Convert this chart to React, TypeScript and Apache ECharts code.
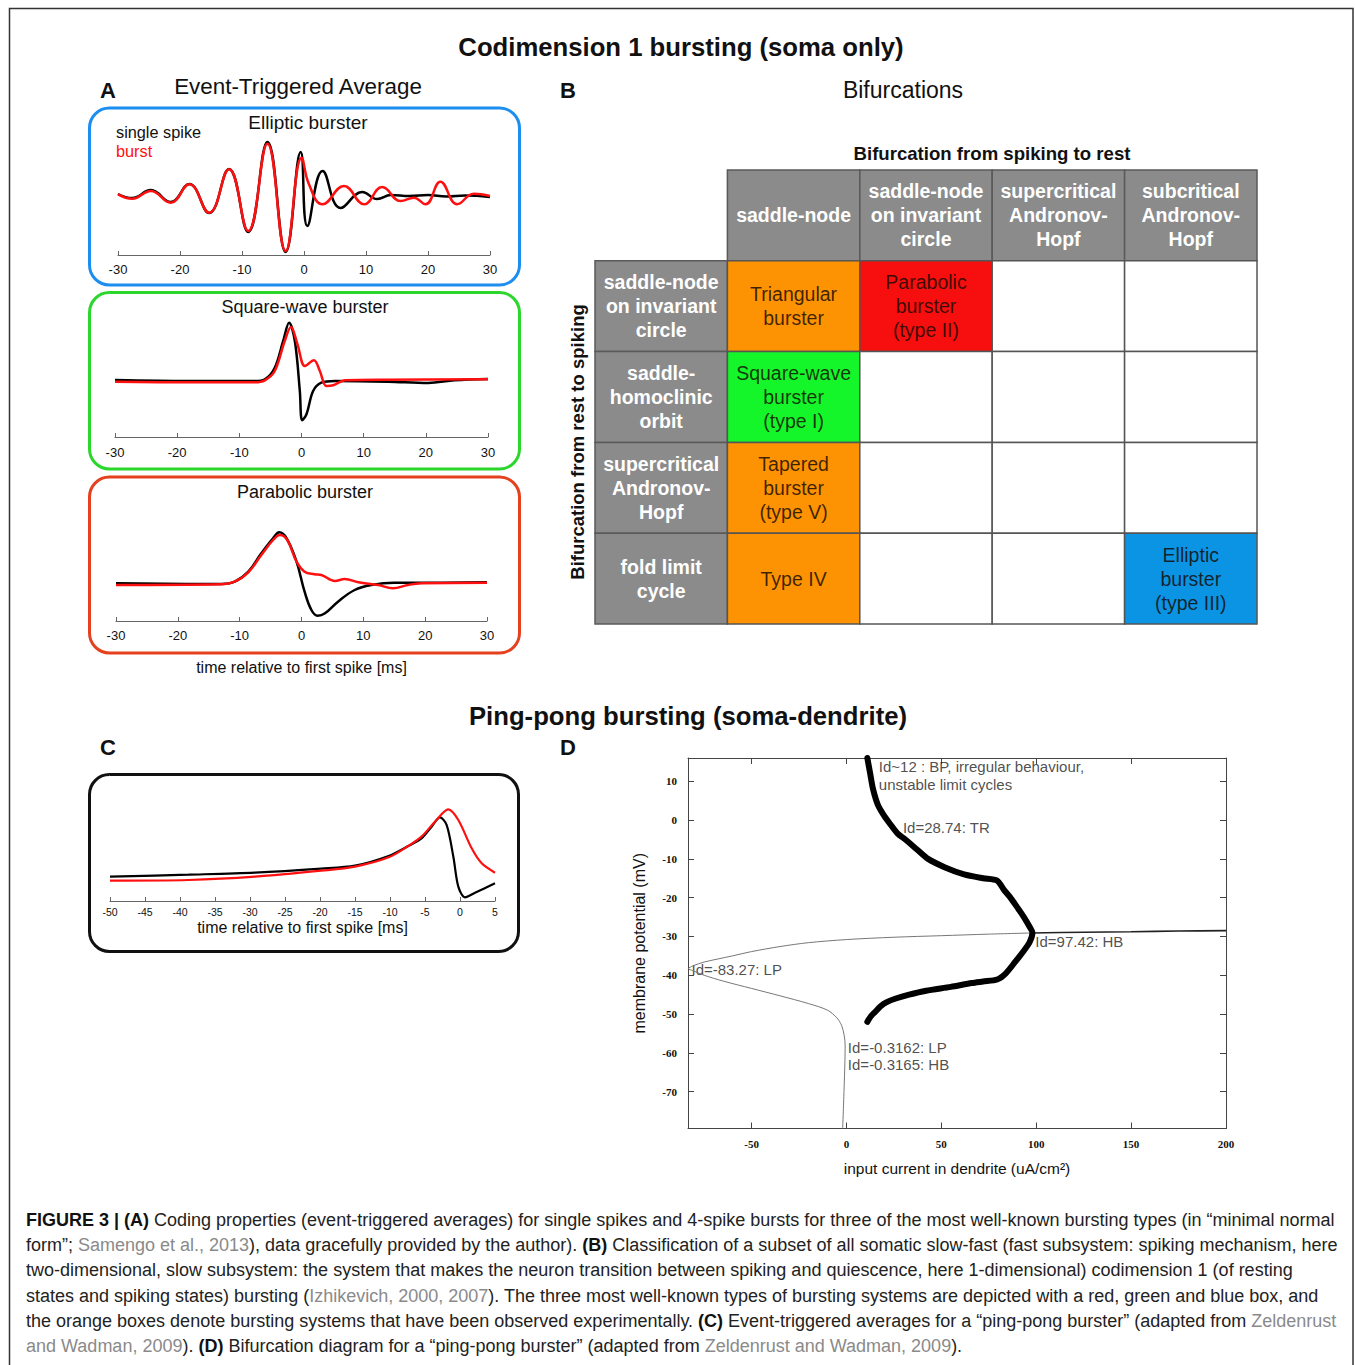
import React, { useEffect, useRef } from "react";
import * as echarts from "echarts";

// ---------- Panel A: event-triggered averages (t in ms, relative potential) ----------
const ellipticSingle: number[][] = [
  [-30, 0.2], [-27.7, -0.2], [-24.7, 0.6], [-21.5, -0.6], [-18.5, 1.2], [-15.3, -1.7],
  [-12.1, 2.7], [-9.0, -3.6], [-5.9, 5.4], [-2.96, -5.6], [-0.54, 4.4], [0.54, -3.0],
  [3.0, 2.5], [5.9, -1.2], [9.4, 0.4], [11.8, -0.3], [14, 0.1], [17, 0.0], [20, 0.1],
  [23, -0.05], [26, 0.05], [30, -0.1],
];
const ellipticBurst: number[][] = [
  [-30, 0.17], [-27.7, -0.27], [-24.7, 0.5], [-21.5, -0.67], [-18.5, 1.17], [-15.3, -1.67],
  [-12.1, 2.67], [-9.0, -3.5], [-5.9, 5.23], [-2.96, -5.5], [-0.38, 3.83], [0.8, 1.17],
  [3.0, -0.83], [6.45, 1.0], [9.7, -0.83], [12.6, 0.9], [15.6, -0.5], [17.7, -0.17],
  [19.6, -0.83], [22.0, 1.43], [24.7, -0.83], [27.4, 0.23], [30, 0],
];
const squareSingle: number[][] = [
  [-30, 0.1], [-18.2, 0], [-7.5, 0], [-5.9, 0.17], [-4.3, 1.33], [-2.95, 4.0], [-2.0, 5.83],
  [-1.07, 4.0], [-0.27, -1.0], [0.1, -3.93], [0.8, -3.33], [1.87, -1.0], [3.2, -0.17],
  [5.36, 0], [13.9, -0.07], [20.4, -0.2], [24.6, 0.07], [30, 0.2],
];
const squareBurst: number[][] = [
  [-30, -0.07], [-18.2, -0.13], [-7.5, -0.13], [-5.9, 0.07], [-4.3, 1.0], [-2.7, 4.0],
  [-1.7, 5.4], [-0.64, 3.67], [0.54, 1.5], [2.0, 2.07], [2.95, 1.0], [4.0, -0.5],
  [5.1, -0.43], [7.0, 0.07], [14, 0.13], [30, 0.17],
];
const parabolicSingle: number[][] = [
  [-30, 0.07], [-12.9, 0], [-10.8, 0.23], [-8.6, 1.23], [-6.5, 3.07], [-4.6, 4.57],
  [-3.6, 5.17], [-2.4, 4.57], [-0.8, 2.23], [0.5, -0.77], [1.6, -2.6], [2.6, -3.17],
  [3.8, -2.93], [5.9, -1.77], [8.6, -0.6], [11.3, -0.1], [15, 0.13], [19.4, 0.13], [30, 0.17],
];
const parabolicBurst: number[][] = [
  [-30, -0.1], [-12.9, -0.03], [-10.8, 0.23], [-8.6, 1.17], [-6.5, 2.9], [-4.6, 4.4],
  [-3.5, 4.9], [-2.3, 4.4], [-0.8, 2.23], [0.5, 1.23], [2.1, 0.97], [3.2, 0.9], [5.4, 0.3],
  [7.0, 0.5], [9.2, 0.17], [12.4, -0.1], [14.8, -0.43], [17.2, -0.1], [19.4, 0.07], [30, 0.13],
];

// ---------- Panel C: ping-pong burster ----------
const pingSingle: number[][] = [
  [-50, 3.65], [-38.8, 3.95], [-29.3, 4.25], [-19.8, 4.85], [-15, 5.3], [-10.2, 6.75],
  [-7.4, 8.25], [-5.5, 9.4], [-4.05, 11.15], [-2.86, 12.55], [-1.9, 11.4], [-0.95, 6.65],
  [-0.24, 2.15], [0.71, 0.55], [2.14, 1.25], [5, 2.65],
];
const pingBurst: number[][] = [
  [-50, 3.05], [-38.8, 3.15], [-29.3, 3.65], [-19.8, 4.55], [-15, 5.15], [-10.2, 6.55],
  [-7.4, 8.25], [-5.5, 9.65], [-3.57, 11.9], [-1.67, 13.75], [-0.24, 12.15], [1.67, 7.9],
  [3.1, 5.65], [5, 4.25],
];

// ---------- Panel D: bifurcation diagram (Id, V) ----------
const eqBranchLeft: number[][] = [
  [-2, -79.5], [-1.3, -70], [-0.8, -62], [-0.7, -58], [-1.2, -55.5], [-2.5, -53], [-5, -51],
  [-10, -49], [-20, -47.3], [-35, -45.3], [-50, -43.4], [-65, -41.5], [-75, -40],
  [-81, -38.8], [-83.3, -38.3], [-81, -37.6], [-75, -36.6], [-60, -35], [-50, -33.9],
  [-35, -32.6], [-20, -31.6], [0, -30.8], [25, -30.2], [50, -29.8], [75, -29.4], [97.4, -29.1],
];
const eqBranchRight: number[][] = [
  [97.4, -29.1], [125, -28.9], [150, -28.8], [175, -28.6], [200, -28.5],
];
const limitCycle: number[][] = [
  [11, 16], [12.5, 12], [14, 8], [16.5, 4], [20, 1], [23, -1], [27, -3.5], [31, -5],
  [37, -7.5], [43, -10], [52, -12.2], [62, -14], [72, -15], [79.4, -15.6], [83, -18],
  [86.4, -20], [90, -22.5], [93.5, -25], [96.5, -27.5], [98, -29], [96.5, -31.5], [93, -34],
  [89, -36.5], [84, -39.5], [79.4, -41.1], [72, -41.6], [66, -42], [55, -43], [42, -44],
  [33, -45], [26, -46], [21, -47], [18, -48], [15, -49.5], [13, -50.5], [11, -52],
];
const dAnnotations = [
  { x: 17.3, y: 13.7, text: "Id~12 : BP, irregular behaviour," },
  { x: 17.3, y: 9.0, text: "unstable limit cycles" },
  { x: 30, y: -2.1, text: "Id=28.74: TR" },
  { x: 99.8, y: -31.4, text: "Id=97.42: HB" },
  { x: -81.4, y: -38.7, text: "Id=-83.27: LP" },
  { x: 1, y: -58.8, text: "Id=-0.3162: LP" },
  { x: 1, y: -63.2, text: "Id=-0.3165: HB" },
];

// ---------- Panel B: table ----------
const colHeaders = [
  "saddle-node",
  "saddle-node\non invariant\ncircle",
  "supercritical\nAndronov-\nHopf",
  "subcritical\nAndronov-\nHopf",
];
const rowHeaders = [
  "saddle-node\non invariant\ncircle",
  "saddle-\nhomoclinic\norbit",
  "supercritical\nAndronov-\nHopf",
  "fold limit\ncycle",
];
const bursterCells = [
  { row: 0, col: 0, text: "Triangular\nburster", kind: "orange" },
  { row: 0, col: 1, text: "Parabolic\nburster\n(type II)", kind: "red" },
  { row: 1, col: 0, text: "Square-wave\nburster\n(type I)", kind: "green" },
  { row: 2, col: 0, text: "Tapered\nburster\n(type V)", kind: "orange" },
  { row: 3, col: 0, text: "Type IV", kind: "orange" },
  { row: 3, col: 3, text: "Elliptic\nburster\n(type III)", kind: "blue" },
];
const tableCategories = ["0", "1", "2", "3", "4"];

const captionLines = [
  "{b|FIGURE 3 | (A)} Coding properties (event-triggered averages) for single spikes and 4-spike bursts for three of the most well-known bursting types (in \u201cminimal normal",
  "form\u201d; {g|Samengo et al., 2013}), data gracefully provided by the author). {b|(B)} Classification of a subset of all somatic slow-fast (fast subsystem: spiking mechanism, here",
  "two-dimensional, slow subsystem: the system that makes the neuron transition between spiking and quiescence, here 1-dimensional) codimension 1 (of resting",
  "states and spiking states) bursting ({g|Izhikevich, 2000, 2007}). The three most well-known types of bursting systems are depicted with a red, green and blue box, and",
  "the orange boxes denote bursting systems that have been observed experimentally. {b|(C)} Event-triggered averages for a \u201cping-pong burster\u201d (adapted from {g|Zeldenrust}",
  "{g|and Wadman, 2009}). {b|(D)} Bifurcation diagram for a \u201cping-pong burster\u201d (adapted from {g|Zeldenrust and Wadman, 2009}).",
];

const W = 1355;
const H = 1365;
const SANS = '"Liberation Sans", Arial, Helvetica, sans-serif';
const SERIF = '"Liberation Serif", "Times New Roman", serif';
const CAP = 18;

const CELL_COLORS: Record<string, string> = {
  orange: "#fd9302",
  red: "#f70f0f",
  green: "#14f62a",
  blue: "#0b93e4",
  gray: "#8b8b8b",
  white: "#ffffff",
};

function buildTable() {
  const cells: any[] = [];
  cells.push({ c: 0, r: 0, text: "", fill: "#ffffff", stroke: "none", color: "#fff", bold: false });
  colHeaders.forEach((t, i) =>
    cells.push({ c: i + 1, r: 0, text: t, fill: CELL_COLORS.gray, stroke: "#5a5a5a", color: "#fff", bold: true })
  );
  rowHeaders.forEach((t, i) =>
    cells.push({ c: 0, r: i + 1, text: t, fill: CELL_COLORS.gray, stroke: "#5a5a5a", color: "#fff", bold: true })
  );
  for (let r = 0; r < 4; r++) {
    for (let c = 0; c < 4; c++) {
      const b = bursterCells.find((x) => x.row === r && x.col === c);
      cells.push({
        c: c + 1,
        r: r + 1,
        text: b ? b.text : "",
        fill: b ? CELL_COLORS[b.kind] : "#ffffff",
        stroke: "#555555",
        color: "rgba(20,10,0,0.82)",
        bold: false,
      });
    }
  }
  return cells;
}

function aXAxis(gi: number, min: number, max: number, interval: number, fs: number, margin: number, extra: any = {}) {
  return {
    type: "value",
    gridIndex: gi,
    min,
    max,
    interval,
    axisLine: { show: true, onZero: false, lineStyle: { color: "#666", width: 1 } },
    axisTick: { show: true, inside: true, length: 4, lineStyle: { color: "#666" } },
    splitLine: { show: false },
    axisLabel: { color: "#111", fontSize: fs, fontFamily: SANS, margin },
    ...extra,
  };
}
function hiddenY(gi: number, min: number, max: number) {
  return { type: "value", gridIndex: gi, min, max, show: false, splitLine: { show: false } };
}
function traceSeries(idx: number, data: number[][], color: string, smooth = 0.4, width = 2.5) {
  return {
    type: "line",
    xAxisIndex: idx,
    yAxisIndex: idx,
    data,
    smooth,
    symbol: "none",
    lineStyle: { color, width },
    silent: true,
  };
}

function txt(x: number, y: number, text: string, size: number, opts: any = {}) {
  return {
    type: "text",
    x,
    y,
    rotation: opts.rotation || 0,
    style: {
      text,
      fontSize: size,
      fontFamily: SANS,
      fontWeight: opts.bold ? "bold" : "normal",
      fill: opts.color || "#111",
      align: opts.align || "center",
      verticalAlign: "middle",
    },
  };
}

export default function App() {
  const ref = useRef<HTMLDivElement>(null);
  useEffect(() => {
    const chart = echarts.init(ref.current!, null, { renderer: "svg", width: W, height: H });
    const tableCells = buildTable();
    const dAxisStyle = { color: "#444", width: 1 };
    const option: any = {
      animation: false,
      backgroundColor: "#ffffff",
      grid: [
        { left: 118, top: 136, width: 372, height: 119 },
        { left: 115, top: 317, width: 373, height: 120 },
        { left: 116, top: 524, width: 371, height: 97 },
        { left: 110, top: 807.7, width: 385, height: 93.3 },
        { left: 688, top: 758, width: 538, height: 370.5 },
        { left: 595, top: 170, width: 662, height: 454 },
      ],
      xAxis: [
        aXAxis(0, -30, 30, 10, 13, 8),
        aXAxis(1, -30, 30, 10, 13, 9),
        aXAxis(2, -30, 30, 10, 13, 8, {
          name: "time relative to first spike [ms]",
          nameLocation: "middle",
          nameGap: 38,
          nameTextStyle: { fontSize: 16, fontFamily: SANS, color: "#111" },
        }),
        aXAxis(3, -50, 5, 5, 10.5, 5, {
          name: "time relative to first spike [ms]",
          nameLocation: "middle",
          nameGap: 18,
          nameTextStyle: { fontSize: 16, fontFamily: SANS, color: "#111" },
        }),
        {
          type: "value",
          gridIndex: 4,
          min: -83.5,
          max: 200,
          splitNumber: 5,
          minInterval: 50,
          maxInterval: 50,
          position: "bottom",
          axisLine: { show: true, onZero: false, lineStyle: dAxisStyle },
          axisTick: { show: true, inside: true, length: 6, lineStyle: dAxisStyle },
          splitLine: { show: false },
          axisLabel: {
            color: "#111",
            fontSize: 11,
            fontWeight: "bold",
            fontFamily: SERIF,
            margin: 10,
            formatter: (v: number) => (Math.abs(v % 50) < 1e-6 ? String(v) : ""),
          },
          name: "input current in dendrite (uA/cm\u00b2)",
          nameLocation: "middle",
          nameGap: 32,
          nameTextStyle: { fontSize: 15.5, fontFamily: SANS, color: "#111" },
        },
        {
          type: "value",
          gridIndex: 4,
          min: -83.5,
          max: 200,
          splitNumber: 5,
          minInterval: 50,
          maxInterval: 50,
          position: "top",
          axisLine: { show: true, onZero: false, lineStyle: dAxisStyle },
          axisTick: { show: true, inside: true, length: 6, lineStyle: dAxisStyle },
          axisLabel: { show: false },
          splitLine: { show: false },
        },
        { type: "category", gridIndex: 5, data: tableCategories, show: false },
      ],
      yAxis: [
        hiddenY(0, -5.9, 6.0),
        hiddenY(1, -5.6, 6.4),
        hiddenY(2, -3.7, 6.0),
        hiddenY(3, 0, 14),
        {
          type: "value",
          gridIndex: 4,
          min: -79.5,
          max: 16,
          splitNumber: 10,
          minInterval: 10,
          maxInterval: 10,
          position: "left",
          axisLine: { show: true, onZero: false, lineStyle: dAxisStyle },
          axisTick: { show: true, inside: true, length: 6, lineStyle: dAxisStyle },
          splitLine: { show: false },
          axisLabel: {
            color: "#111",
            fontSize: 11,
            fontWeight: "bold",
            fontFamily: SERIF,
            margin: 11,
            formatter: (v: number) => (Math.abs(v % 10) < 1e-6 && v > -75 ? String(v) : ""),
          },
          name: "membrane potential (mV)",
          nameLocation: "middle",
          nameGap: 41,
          nameRotate: 90,
          nameTextStyle: { fontSize: 16, fontFamily: SANS, color: "#111" },
        },
        {
          type: "value",
          gridIndex: 4,
          min: -79.5,
          max: 16,
          splitNumber: 10,
          minInterval: 10,
          maxInterval: 10,
          position: "right",
          axisLine: { show: true, onZero: false, lineStyle: dAxisStyle },
          axisTick: { show: true, inside: true, length: 6, lineStyle: dAxisStyle },
          axisLabel: { show: false },
          splitLine: { show: false },
        },
        { type: "category", gridIndex: 5, data: tableCategories, inverse: true, show: false },
      ],
      series: [
        traceSeries(0, ellipticSingle, "#000000", 0.45),
        traceSeries(0, ellipticBurst, "#ff1010", 0.45),
        traceSeries(1, squareSingle, "#000000", 0.35),
        traceSeries(1, squareBurst, "#ff1010", 0.35),
        traceSeries(2, parabolicSingle, "#000000", 0.4),
        traceSeries(2, parabolicBurst, "#ff1010", 0.4),
        traceSeries(3, pingSingle, "#000000", 0.3, 2.2),
        traceSeries(3, pingBurst, "#ff1010", 0.3, 2.2),
        {
          type: "line",
          xAxisIndex: 4,
          yAxisIndex: 4,
          data: eqBranchLeft,
          smooth: 0.3,
          symbol: "none",
          lineStyle: { color: "#777", width: 1 },
          silent: true,
        },
        {
          type: "line",
          xAxisIndex: 4,
          yAxisIndex: 4,
          data: eqBranchRight,
          smooth: 0.3,
          symbol: "none",
          lineStyle: { color: "#222", width: 1.6 },
          silent: true,
        },
        {
          type: "line",
          xAxisIndex: 4,
          yAxisIndex: 4,
          data: limitCycle,
          smooth: 0.25,
          symbol: "none",
          lineStyle: { color: "#000", width: 6, cap: "round", join: "round" },
          silent: true,
        },
        {
          type: "scatter",
          xAxisIndex: 4,
          yAxisIndex: 4,
          symbolSize: 1,
          itemStyle: { color: "rgba(0,0,0,0)" },
          data: dAnnotations.map((a) => ({ value: [a.x, a.y], name: a.text })),
          label: {
            show: true,
            position: [0, 0],
            align: "left",
            verticalAlign: "middle",
            formatter: "{b}",
            fontSize: 15,
            lineHeight: 16,
            fontFamily: SANS,
            color: "#222",
          },
          silent: true,
        },
        {
          type: "custom",
          xAxisIndex: 6,
          yAxisIndex: 6,
          clip: false,
          data: tableCells.map((c) => [c.c, c.r]),
          renderItem: (params: any, api: any) => {
            const cell = tableCells[params.dataIndex];
            const p = api.coord([api.value(0), api.value(1)]);
            const s = api.size([1, 1]);
            return {
              type: "group",
              children: [
                {
                  type: "rect",
                  shape: { x: p[0] - s[0] / 2, y: p[1] - s[1] / 2, width: s[0], height: s[1] },
                  style: { fill: cell.fill, stroke: cell.stroke, lineWidth: 1.5 },
                },
                {
                  type: "text",
                  style: {
                    text: cell.text,
                    x: p[0],
                    y: p[1],
                    align: "center",
                    verticalAlign: "middle",
                    fill: cell.color,
                    fontSize: 19.5,
                    fontWeight: cell.bold ? "bold" : "normal",
                    fontFamily: SANS,
                    lineHeight: 24,
                  },
                },
              ],
            };
          },
          silent: true,
        },
      ],
      graphic: [
        {
          type: "rect",
          shape: { x: 9.5, y: 8.5, width: 1343.5, height: 1380 },
          style: { fill: "none", stroke: "#333", lineWidth: 1.5 },
          silent: true,
        },
        txt(681, 47, "Codimension 1 bursting (soma only)", 25.7, { bold: true }),
        txt(688, 716, "Ping-pong bursting (soma-dendrite)", 25.7, { bold: true }),
        txt(108, 90, "A", 22, { bold: true }),
        txt(568, 90, "B", 22, { bold: true }),
        txt(108, 747, "C", 22, { bold: true }),
        txt(568, 747, "D", 22, { bold: true }),
        txt(298, 86, "Event-Triggered Average", 22.4),
        txt(903, 90, "Bifurcations", 23),
        txt(992, 153, "Bifurcation from spiking to rest", 18.6, { bold: true }),
        txt(577, 442, "Bifurcation from rest to spiking", 18.5, { bold: true, rotation: Math.PI / 2 }),
        {
          type: "rect",
          shape: { x: 89.5, y: 108, width: 430, height: 177, r: 20 },
          style: { fill: "none", stroke: "#1b8ef0", lineWidth: 3 },
          silent: true,
        },
        {
          type: "rect",
          shape: { x: 89.5, y: 292.5, width: 430, height: 176.5, r: 20 },
          style: { fill: "none", stroke: "#2bd72b", lineWidth: 3 },
          silent: true,
        },
        {
          type: "rect",
          shape: { x: 89.5, y: 477, width: 430, height: 176, r: 20 },
          style: { fill: "none", stroke: "#e5411e", lineWidth: 3 },
          silent: true,
        },
        {
          type: "rect",
          shape: { x: 89.5, y: 774.5, width: 429, height: 177, r: 20 },
          style: { fill: "none", stroke: "#111", lineWidth: 3 },
          silent: true,
        },
        txt(308, 122, "Elliptic burster", 19),
        txt(305, 307, "Square-wave burster", 18),
        txt(305, 492, "Parabolic burster", 18),
        txt(116, 132, "single spike", 16.3, { align: "left" }),
        txt(116, 151, "burst", 16.3, { align: "left", color: "#ff1010" }),
        ...captionLines.map((line, i) => ({
          type: "text",
          x: 26,
          y: [1220, 1245, 1270, 1296, 1321, 1346][i],
          style: {
            text: line,
            fontSize: CAP,
            fontFamily: SANS,
            fill: "#222",
            align: "left",
            verticalAlign: "middle",
            rich: {
              b: { fontSize: CAP, fontFamily: SANS, fontWeight: "bold", fill: "#111", color: "#111" },
              g: { fontSize: CAP, fontFamily: SANS, fill: "#8a8a8a", color: "#8a8a8a" },
            },
          },
        })),
      ],
    };
    chart.setOption(option);
    return () => chart.dispose();
  }, []);
  return (
    <div
      ref={ref}
      style={{ position: "absolute", left: 0, top: 0, width: W, height: H, background: "#fff" }}
    />
  );
}
